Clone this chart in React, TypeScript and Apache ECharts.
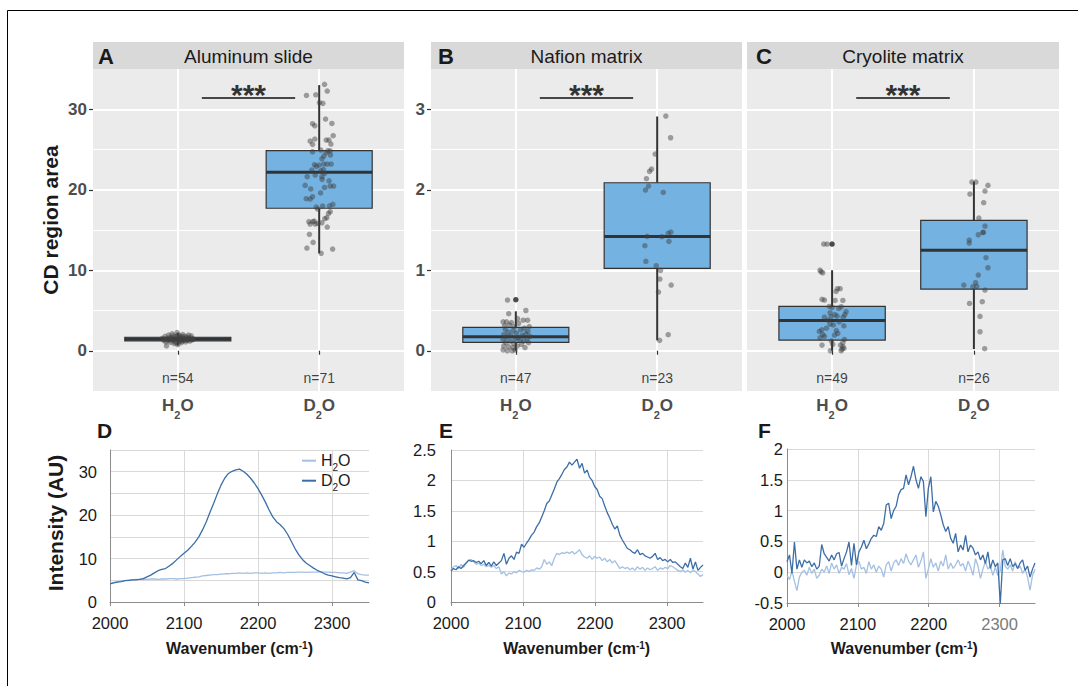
import React, { useEffect, useRef } from "react";
import * as echarts from "echarts";

const FONT = "'Liberation Sans', Arial, Helvetica, sans-serif";

// ---------------- Top row: box plots ----------------
const groupNames = ["H2O", "D2O"];
const panelLetters = ["A", "B", "C"];
const panelTitles = ["Aluminum slide", "Nafion matrix", "Cryolite matrix"];
const nLabels = [["n=54", "n=71"], ["n=47", "n=23"], ["n=49", "n=26"]];

// [whisker low, Q1, median, Q3, whisker high]
const boxA = [[0.62, 1.22, 1.45, 1.68, 2.25], [12.1, 17.7, 22.16, 24.85, 33.0]];
const boxB = [[0.0, 0.104, 0.174, 0.29, 0.49], [0.13, 1.024, 1.42, 2.087, 2.91]];
const boxC = [[0.0, 0.133, 0.377, 0.552, 1.0], [0.02, 0.766, 1.247, 1.62, 2.1]];

// outliers: [group, value]
const outA: number[][] = [];
const outB = [[1, 0.634]];
const outC = [[1, 1.325]];

// jittered points: [jitter offset, value]
const jitA_H2O = [
  [-0.11, 1.55], [-0.10, 1.30], [-0.09, 1.80], [-0.085, 1.10], [-0.08, 0.62], [-0.07, 1.50], [-0.065, 1.95], [-0.06, 1.25], [-0.055, 1.70], [-0.05, 1.05],
  [-0.045, 1.45], [-0.04, 2.10], [-0.035, 1.35], [-0.03, 1.60], [-0.025, 0.90], [-0.02, 1.20], [-0.015, 1.75], [-0.01, 1.40], [-0.005, 2.25], [0.0, 0.75],
  [0.003, 1.50], [0.008, 1.30], [0.012, 1.90], [0.015, 1.15], [0.02, 1.65], [0.025, 1.00], [0.03, 1.45], [0.035, 2.00], [0.04, 1.25], [0.045, 1.55],
  [0.05, 1.80], [0.055, 1.10], [0.06, 1.40], [0.065, 1.70], [0.07, 1.30], [0.075, 1.95], [0.08, 1.50], [0.085, 1.20], [0.09, 1.60], [0.095, 1.85],
  [0.10, 1.35], [0.105, 1.45], [-0.075, 1.35], [-0.015, 1.05], [0.01, 1.60], [0.03, 1.75], [-0.05, 1.55], [0.05, 1.35], [-0.03, 1.85], [0.0, 1.90],
  [0.02, 1.20], [-0.09, 1.45], [0.07, 1.55], [0.11, 1.45],
];
const jitA_D2O = [
  [0.038, 33.09], [0.057, 32.26], [-0.09, 31.72], [-0.024, 31.8], [0.002, 30.81], [0.026, 30.73], [0.045, 28.78], [0.09, 28.24], [-0.047, 28.2], [-0.031, 27.95],
  [0.099, 26.71], [-0.064, 26.05], [-0.031, 26.3], [-0.047, 25.64], [0.05, 26.17], [0.069, 26.17], [0.083, 25.68], [0.012, 24.93], [0.061, 24.85], [0.078, 24.82],
  [-0.047, 24.72], [0.033, 24.19], [0.019, 23.85], [0.08, 24.31], [-0.033, 23.11], [0.033, 23.19], [0.057, 23.19], [0.085, 23.19], [0.0, 23.07], [-0.052, 22.45],
  [0.012, 22.36], [0.038, 22.03], [-0.085, 21.62], [-0.028, 21.83], [0.019, 21.62], [0.021, 21.29], [-0.099, 20.54], [0.038, 20.29], [0.078, 20.46], [0.102, 20.46],
  [-0.047, 19.13], [-0.092, 18.89], [-0.064, 18.84], [-0.021, 17.85], [0.024, 17.98], [0.073, 18.0], [0.097, 18.18], [0.078, 17.27], [0.066, 17.06], [-0.073, 16.03],
  [-0.045, 16.03], [-0.028, 15.74], [-0.009, 15.82], [0.019, 15.9], [-0.064, 15.74], [0.054, 16.53], [0.057, 15.37], [-0.069, 14.46], [-0.043, 13.46], [-0.087, 12.76],
  [0.095, 12.63], [0.014, 12.1], [0.05, 24.6], [-0.02, 22.9], [0.03, 22.5], [0.07, 21.1], [-0.06, 20.1], [0.01, 19.6], [-0.01, 17.6], [0.04, 16.4], [-0.035, 16.1],
];
const jitB_H2O = [
  [-0.059, 0.63], [0.071, 0.5], [-0.05, 0.46], [0.012, 0.4], [0.083, 0.38], [0.052, 0.38], [-0.09, 0.36], [-0.066, 0.36], [-0.031, 0.35], [0.02, 0.34],
  [-0.08, 0.31], [-0.045, 0.32], [0.095, 0.3], [-0.01, 0.3], [0.06, 0.28], [-0.075, 0.27], [0.035, 0.26], [-0.02, 0.25], [0.085, 0.24], [-0.055, 0.23],
  [0.005, 0.22], [0.07, 0.21], [-0.085, 0.2], [-0.035, 0.19], [0.045, 0.19], [0.1, 0.18], [-0.065, 0.17], [0.015, 0.16], [-0.005, 0.15], [0.08, 0.15],
  [-0.09, 0.14], [0.03, 0.13], [-0.04, 0.12], [0.055, 0.12], [-0.07, 0.1], [0.09, 0.1], [-0.015, 0.09], [0.04, 0.08], [-0.085, 0.06], [0.01, 0.06],
  [-0.05, 0.05], [-0.02, 0.04], [0.065, 0.04], [-0.09, 0.01], [-0.06, 0.0], [-0.025, 0.0], [-0.005, 0.01],
];
const jitB_D2O = [
  [0.061, 2.915], [0.095, 2.646], [-0.014, 2.443], [-0.04, 2.257], [-0.054, 2.228], [-0.076, 2.137], [-0.061, 2.046], [-0.083, 1.996], [0.043, 1.967], [0.097, 1.475],
  [0.078, 1.458], [-0.071, 1.421], [0.033, 1.417], [0.083, 1.359], [-0.087, 1.305], [-0.08, 1.11], [-0.007, 1.056], [0.024, 0.998], [0.019, 0.891], [0.099, 0.816],
  [0.009, 0.729], [0.078, 0.199], [0.017, 0.129],
];
const jitC_H2O = [
  [-0.059, 1.325], [-0.035, 1.325], [-0.085, 1.0], [-0.066, 0.969], [-0.078, 0.98], [0.038, 0.771], [0.057, 0.771], [0.028, 0.737], [-0.071, 0.638], [-0.054, 0.63],
  [0.021, 0.625], [0.076, 0.625], [0.047, 0.526], [0.064, 0.547], [0.0, 0.54], [-0.014, 0.472], [0.099, 0.485], [-0.007, 0.423], [-0.054, 0.417], [0.035, 0.43],
  [0.078, 0.417], [0.009, 0.32], [-0.014, 0.33], [0.083, 0.31], [-0.073, 0.26], [-0.09, 0.24], [-0.066, 0.2], [0.04, 0.215], [0.017, 0.195], [-0.054, 0.18],
  [-0.085, 0.16], [0.087, 0.14], [0.076, 0.1], [0.059, 0.07], [-0.071, 0.07], [-0.012, 0.0], [0.064, 0.0], [0.076, 0.05], [0.083, 0.03], [0.005, 0.08],
  [-0.03, 0.38], [0.05, 0.36], [-0.04, 0.28], [0.02, 0.45], [0.07, 0.02], [-0.005, 0.12], [0.03, 0.25], [0.09, 0.45], [-0.02, 0.55],
];
const jitC_D2O = [
  [-0.014, 2.096], [0.014, 2.096], [0.099, 2.054], [0.078, 1.984], [-0.028, 1.947], [0.069, 1.839], [0.035, 1.648], [0.078, 1.549], [0.064, 1.47], [0.031, 1.441],
  [-0.033, 1.375], [-0.033, 1.338], [0.085, 1.156], [0.099, 1.031], [0.031, 0.94], [0.012, 0.845], [-0.071, 0.816], [-0.007, 0.795], [0.078, 0.754], [0.059, 0.609],
  [-0.031, 0.588], [0.043, 0.427], [0.043, 0.236], [0.076, 0.025], [0.066, 1.47], [0.02, 0.8],
];

const yMajorA = [0, 10, 20, 30];
const yMinorA = [-5, 5, 15, 25];
const yMajorBC = [0, 1, 2, 3];
const yMinorBC = [-0.5, 0.5, 1.5, 2.5];
const sigY = [31.4, 3.14, 3.14];
const sigX = [1.17, 1.83];
const nLabelY = [-3.43, -0.343, -0.343];

// ---------------- Bottom row: spectra ----------------
const wnD = Array.from({ length: 71 }, (_, i) => 2000 + 5 * i);
const wnEF = Array.from({ length: 101 }, (_, i) => 2000 + 3.5 * i);
const xTicksSpec = [2000, 2100, 2200, 2300];
const yTicksD = [0, 5, 10, 15, 20, 25, 30, 35];
const yLabelsD = [0, 10, 20, 30];

const D_H2O = [4.3, 4.5, 4.7, 4.8, 4.9, 5.0, 5.1, 5.2, 5.2, 5.3, 5.2, 5.3, 5.3, 5.2, 5.3, 5.3, 5.4, 5.4, 5.3, 5.4,
  5.4, 5.5, 5.6, 5.7, 5.8, 6.0, 6.1, 6.2, 6.3, 6.3, 6.4, 6.5, 6.5, 6.6, 6.6, 6.7, 6.6, 6.7, 6.6, 6.7,
  6.7, 6.6, 6.7, 6.6, 6.7, 6.7, 6.8, 6.7, 6.8, 6.8, 6.8, 6.9, 6.9, 6.8, 6.9, 6.9, 6.9, 7.0, 6.9, 6.9,
  6.8, 6.8, 6.7, 6.7, 6.6, 6.9, 7.2, 6.5, 6.3, 6.2, 6.2];
const D_D2O = [4.2, 4.4, 4.6, 4.7, 4.9, 5.0, 5.1, 5.1, 5.2, 5.4, 5.8, 6.2, 6.7, 7.2, 7.5, 7.7, 8.3, 8.9, 9.7, 10.5,
  11.2, 11.9, 12.8, 13.8, 15.0, 16.6, 18.4, 20.6, 22.7, 24.9, 26.9, 28.5, 29.6, 30.1, 30.4, 30.6, 30.1, 29.4, 28.5, 27.4,
  26.1, 24.6, 23.0, 21.2, 19.6, 18.5, 17.8, 16.9, 15.6, 14.0, 12.3, 10.9, 9.8, 9.0, 8.4, 7.8, 7.3, 6.9, 6.5, 6.2,
  6.0, 5.8, 5.6, 5.5, 5.3, 5.6, 6.8, 5.1, 4.9, 4.6, 4.4];

const E_H2O = [0.52, 0.58, 0.6, 0.55, 0.62, 0.57, 0.64, 0.68, 0.7, 0.66, 0.62, 0.64, 0.6, 0.62, 0.58, 0.6, 0.57, 0.6, 0.55, 0.58,
  0.46, 0.5, 0.43, 0.48, 0.46, 0.5, 0.48, 0.52, 0.5, 0.49, 0.52, 0.5, 0.53, 0.52, 0.56, 0.54, 0.58, 0.7, 0.62, 0.66,
  0.6, 0.72, 0.8, 0.78, 0.81, 0.8, 0.82, 0.8, 0.83, 0.79, 0.82, 0.86, 0.78, 0.74, 0.72, 0.76, 0.7, 0.75, 0.72, 0.74,
  0.68, 0.72, 0.66, 0.7, 0.64, 0.68, 0.62, 0.55, 0.58, 0.55, 0.57, 0.53, 0.56, 0.52, 0.58, 0.54, 0.57, 0.52, 0.56, 0.53,
  0.55, 0.58, 0.52, 0.56, 0.54, 0.57, 0.55, 0.6, 0.58, 0.55, 0.52, 0.5, 0.53, 0.49, 0.52, 0.48, 0.52, 0.5, 0.46, 0.42, 0.45];
const E_D2O = [0.51, 0.55, 0.53, 0.58, 0.55, 0.6, 0.64, 0.69, 0.67, 0.68, 0.65, 0.67, 0.63, 0.68, 0.6, 0.65, 0.59, 0.66, 0.6, 0.64,
  0.68, 0.8, 0.62, 0.72, 0.76, 0.7, 0.82, 0.8, 0.95, 0.9, 0.97, 1.03, 1.1, 1.15, 1.24, 1.3, 1.4, 1.5, 1.62, 1.66,
  1.76, 1.86, 1.97, 2.03, 2.1, 2.18, 2.22, 2.3, 2.25, 2.3, 2.35, 2.2, 2.28, 2.12, 2.17, 2.05, 2.0, 1.9, 1.85, 1.74,
  1.7, 1.58, 1.47, 1.38, 1.28, 1.2, 1.25, 1.1, 1.02, 0.95, 0.88, 0.86, 0.82, 0.8, 0.86, 0.78, 0.8, 0.76, 0.74, 0.72,
  0.75, 0.8, 0.7, 0.73, 0.68, 0.7, 0.66, 0.7, 0.65, 0.66, 0.62, 0.58, 0.55, 0.64, 0.57, 0.72, 0.54, 0.66, 0.52, 0.57, 0.61];

const F_H2O = [-0.05, -0.12, 0.02, -0.15, -0.3, -0.08, 0.0, 0.03, -0.05, 0.08, -0.02, 0.05, -0.1, -0.05, 0.05, 0.0, 0.1, -0.02, 0.15, 0.05,
  0.12, -0.02, 0.08, 0.05, 0.14, -0.04, 0.06, -0.1, 0.12, 0.18, 0.05, 0.08, -0.02, 0.17, 0.05, 0.12, 0.0, 0.1, 0.05, -0.08,
  0.12, 0.17, 0.02, 0.15, 0.2, 0.11, 0.22, 0.14, 0.3, 0.18, 0.12, 0.2, 0.28, 0.08, 0.18, 0.33, -0.1, 0.05, 0.22, 0.08,
  0.15, 0.02, 0.18, 0.1, 0.28, 0.05, 0.15, 0.06, 0.12, 0.2, 0.1, 0.14, 0.02, 0.18, 0.08, -0.05, 0.22, 0.1, -0.1, 0.05,
  0.17, 0.05, 0.1, -0.05, 0.08, -0.05, 0.02, 0.36, 0.1, 0.05, 0.12, 0.02, 0.17, 0.06, 0.1, -0.02, 0.05, -0.08, -0.29, -0.05, 0.05];
const F_D2O = [0.17, 0.28, -0.02, 0.49, 0.05, 0.2, 0.08, 0.2, 0.15, 0.18, 0.09, 0.15, 0.05, 0.1, 0.45, 0.3, 0.24, 0.18, 0.28, 0.2,
  0.3, 0.32, 0.1, 0.22, 0.33, 0.49, 0.11, 0.47, 0.12, 0.33, 0.41, 0.52, 0.38, 0.46, 0.55, 0.6, 0.58, 0.74, 0.68, 0.79,
  1.09, 1.12, 0.87, 1.0, 1.07, 1.26, 1.34, 1.36, 1.58, 1.42, 1.55, 1.72, 1.5, 1.36, 1.55, 1.47, 0.9, 1.36, 1.55, 0.98,
  1.15, 1.07, 0.93, 0.77, 0.66, 0.74, 0.55, 0.47, 0.63, 0.33, 0.44, 0.36, 0.6, 0.33, 0.44, 0.39, 0.28, 0.33, 0.2, 0.28,
  0.14, 0.33, 0.06, 0.2, 0.09, 0.15, -0.51, 0.2, 0.22, 0.11, 0.22, 0.09, 0.14, 0.06, 0.15, 0.2, 0.03, 0.1, -0.08, 0.05, 0.15];

// ---------------- Styles / layout ----------------
const BOX_FILL = "#74b2e2";
const DARK = "#3c6ea6";
const LIGHT = "#a4c0e2";
const topLayout = [
  { left: 93, width: 311 },
  { left: 431, width: 311 },
  { left: 747, width: 312 },
];
const letterX = [98, 438, 756];

function boxRender(params: any, api: any) {
  const x = api.value(0);
  const lo = api.coord([x, api.value(1)]);
  const q1 = api.coord([x, api.value(2)]);
  const med = api.coord([x, api.value(3)]);
  const q3 = api.coord([x, api.value(4)]);
  const hi = api.coord([x, api.value(5)]);
  const hw = api.size([0.75, 0])[0] / 2;
  const cx = lo[0];
  const stroke = "#333333";
  return {
    type: "group",
    children: [
      { type: "line", shape: { x1: cx, y1: hi[1], x2: cx, y2: q3[1] }, style: { stroke, lineWidth: 2 } },
      { type: "line", shape: { x1: cx, y1: q1[1], x2: cx, y2: lo[1] }, style: { stroke, lineWidth: 2 } },
      { type: "rect", shape: { x: cx - hw, y: q3[1], width: 2 * hw, height: q1[1] - q3[1] }, style: { fill: BOX_FILL, stroke, lineWidth: 1.2 } },
      { type: "line", shape: { x1: cx - hw, y1: med[1], x2: cx + hw, y2: med[1] }, style: { stroke, lineWidth: 3 } },
    ],
  };
}

function subRich(color: string, big: number, small: number, pad: number, bold: boolean, alignMain: string) {
  return {
    a: { fontSize: big, fontWeight: bold ? "bold" : "normal", color, fontFamily: FONT, verticalAlign: alignMain },
    s: { fontSize: small, fontWeight: bold ? "bold" : "normal", color, fontFamily: FONT, verticalAlign: "top", padding: [pad, 0, 0, 0] },
  };
}
const subText = (g: string) => `{a|${g[0]}}{s|${g[1]}}{a|${g[2]}}`;

function buildOption() {
  const grids: any[] = [];
  const xAxes: any[] = [];
  const yAxes: any[] = [];
  const series: any[] = [];
  const graphics: any[] = [];

  const boxes = [boxA, boxB, boxC];
  const outs = [outA, outB, outC];
  const jits = [[jitA_H2O, jitA_D2O], [jitB_H2O, jitB_D2O], [jitC_H2O, jitC_D2O]];

  // ---- top grids (0..2) ----
  for (let p = 0; p < 3; p++) {
    const L = topLayout[p];
    grids.push({ left: L.left, top: 69, width: L.width, height: 322, show: true, backgroundColor: "#ebebeb", borderWidth: 0 });
    xAxes.push({
      gridIndex: p, type: "value", min: 0.4, max: 2.6,
      axisLine: { show: false },
      axisTick: { show: true, customValues: [1, 2], length: 4, lineStyle: { color: "#333", width: 1.2 } },
      axisLabel: {
        customValues: [1, 2], margin: 6,
        formatter: (v: any) => subText(groupNames[Math.round(Number(v)) - 1]),
        rich: subRich("#4d4d4d", 17, 11, 12, true, "top"),
      },
      splitLine: { show: true, lineStyle: { color: "#ffffff", width: 2 } },
    });
  }
  // ---- bottom grids (3..5) ----
  const bottomLayout = [
    { left: 110, top: 450, width: 259, height: 152, min: 0, max: 35, labelMargin: 13 },
    { left: 451, top: 450, width: 252, height: 152, min: 0, max: 2.5, labelMargin: 15 },
    { left: 787, top: 449, width: 248, height: 154, min: -0.5, max: 2, labelMargin: 4 },
  ];
  for (let k = 0; k < 3; k++) {
    const B = bottomLayout[k];
    grids.push({ left: B.left, top: B.top, width: B.width, height: B.height });
    xAxes.push({
      gridIndex: 3 + k, type: "value", min: 2000, max: 2350, interval: 100,
      axisLine: { show: true, onZero: false, lineStyle: { color: "#8c8c8c", width: 1 } },
      axisTick: { show: true, customValues: xTicksSpec, length: 4, lineStyle: { color: "#8c8c8c" } },
      axisLabel: {
        customValues: xTicksSpec, margin: 12, fontSize: 16.5, fontFamily: FONT,
        color: k === 2 ? (v: any) => (Number(v) === 2300 ? "#7a7a7a" : "#1a1a1a") : "#1a1a1a",
        formatter: (v: any) => String(v),
      },
      splitLine: { show: true, lineStyle: { color: "#d9d9d9", width: 1 } },
    });
  }

  // ---- y axes: top major 0..2 ----
  for (let p = 0; p < 3; p++) {
    const isA = p === 0;
    yAxes.push({
      gridIndex: p, type: "value", min: isA ? -5 : -0.5, max: isA ? 35 : 3.5,
      axisLine: { show: false },
      axisTick: { show: p < 2, customValues: isA ? yMajorA : yMajorBC, length: 4, lineStyle: { color: "#333", width: 1.2 } },
      axisLabel: {
        show: p < 2, customValues: isA ? yMajorA : yMajorBC, margin: 6,
        fontSize: 17, fontWeight: "bold", color: "#4d4d4d", fontFamily: FONT,
        formatter: (v: any) => String(v),
      },
      splitLine: { show: true, lineStyle: { color: "#ffffff", width: 2 } },
    });
  }
  // ---- bottom y axes 3..5 ----
  for (let k = 0; k < 3; k++) {
    const B = bottomLayout[k];
    const y: any = {
      gridIndex: 3 + k, type: "value", min: B.min, max: B.max, interval: k === 0 ? 5 : 0.5,
      axisLine: { show: true, onZero: false, lineStyle: { color: "#8c8c8c", width: 1 } },
      axisTick: { show: false },
      axisLabel: { margin: B.labelMargin, fontSize: 16.5, color: "#1a1a1a", fontFamily: FONT, formatter: (v: any) => String(v) },
      splitLine: { show: true, lineStyle: { color: "#d9d9d9", width: 1 } },
    };
    if (k === 0) {
      y.axisTick = { show: false, customValues: yTicksD };
      y.axisLabel.customValues = yLabelsD;
    }
    yAxes.push(y);
  }
  // ---- top minor y axes 6..8 ----
  for (let p = 0; p < 3; p++) {
    const isA = p === 0;
    yAxes.push({
      gridIndex: p, type: "value", min: isA ? -5 : -0.5, max: isA ? 35 : 3.5,
      axisLine: { show: false },
      axisTick: { show: false, customValues: isA ? yMinorA : yMinorBC },
      axisLabel: { show: false },
      splitLine: { show: true, lineStyle: { color: "#ffffff", width: 1 } },
    });
  }

  // ---- top series ----
  for (let p = 0; p < 3; p++) {
    series.push({
      type: "custom", name: "box" + p, xAxisIndex: p, yAxisIndex: p, z: 2, silent: true,
      renderItem: boxRender,
      encode: { x: 0, y: [1, 2, 3, 4, 5] },
      data: boxes[p].map((s, i) => [i + 1, ...s]),
    });
    series.push({
      type: "scatter", name: "points" + p, xAxisIndex: p, yAxisIndex: p, z: 3, silent: true,
      symbolSize: 5.5, itemStyle: { color: "rgba(64,64,64,0.6)" },
      data: [
        ...jits[p][0].map(([o, v]) => [1 + o, v]),
        ...jits[p][1].map(([o, v]) => [2 + o, v]),
      ],
    });
    if (outs[p].length) {
      series.push({
        type: "scatter", name: "outliers" + p, xAxisIndex: p, yAxisIndex: p, z: 4, silent: true,
        symbolSize: 5.5, itemStyle: { color: "#1f1f1f" }, data: outs[p],
      });
    }
    series.push({
      type: "line", name: "sig" + p, xAxisIndex: p, yAxisIndex: p, z: 4, silent: true,
      symbol: "none", lineStyle: { color: "#111", width: 1.6 },
      data: [[sigX[0], sigY[p]], [sigX[1], sigY[p]]],
    });
    series.push({
      type: "scatter", name: "stars" + p, xAxisIndex: p, yAxisIndex: p, z: 4, silent: true,
      symbolSize: 1, itemStyle: { color: "rgba(0,0,0,0)" },
      label: { show: true, position: "inside", offset: [0, -3], formatter: "***", fontSize: 30, fontWeight: "bold", color: "#000", fontFamily: FONT },
      data: [[(sigX[0] + sigX[1]) / 2, sigY[p]]],
    });
    series.push({
      type: "scatter", name: "n" + p, xAxisIndex: p, yAxisIndex: p, z: 4, silent: true,
      symbolSize: 1, itemStyle: { color: "rgba(0,0,0,0)" },
      label: { show: true, position: "inside", formatter: (pp: any) => nLabels[p][pp.dataIndex], fontSize: 14, color: "#111", fontFamily: FONT },
      data: [[1, nLabelY[p]], [2, nLabelY[p]]],
    });
  }

  // ---- bottom series ----
  const spectra = [
    { wn: wnD, h: D_H2O, d: D_D2O },
    { wn: wnEF, h: E_H2O, d: E_D2O },
    { wn: wnEF, h: F_H2O, d: F_D2O },
  ];
  for (let k = 0; k < 3; k++) {
    const S = spectra[k];
    series.push({
      type: "line", name: "H2O", xAxisIndex: 3 + k, yAxisIndex: 3 + k, z: 3, symbol: "none",
      lineStyle: { color: LIGHT, width: 1.3 }, itemStyle: { color: LIGHT },
      data: S.wn.map((w, i) => [w, S.h[i]]),
    });
    series.push({
      type: "line", name: "D2O", xAxisIndex: 3 + k, yAxisIndex: 3 + k, z: 4, symbol: "none",
      lineStyle: { color: DARK, width: 1.3 }, itemStyle: { color: DARK },
      data: S.wn.map((w, i) => [w, S.d[i]]),
    });
  }

  // ---- graphics ----
  const txt = (x: number, y: number, text: string, size: number, weight: string, align: string, extra: any = {}) => ({
    type: "text", x, y, ...extra,
    style: {
      text, fontSize: size, fontWeight: weight, fontFamily: FONT, fill: "#1a1a1a",
      align, verticalAlign: "middle", textAlign: align, textVerticalAlign: "middle",
    },
  });
  graphics.push({ type: "line", shape: { x1: 7.5, y1: 10.5, x2: 1078, y2: 10.5 }, style: { stroke: "#000", lineWidth: 1 } });
  graphics.push({ type: "line", shape: { x1: 7.5, y1: 10.5, x2: 7.5, y2: 686 }, style: { stroke: "#000", lineWidth: 1 } });
  for (let p = 0; p < 3; p++) {
    const L = topLayout[p];
    graphics.push({ type: "rect", shape: { x: L.left, y: 42, width: L.width, height: 27 }, style: { fill: "#d9d9d9" } });
    graphics.push(txt(L.left + L.width / 2, 56, panelTitles[p], 19, "normal", "center"));
    graphics.push(txt(letterX[p], 56, panelLetters[p], 22, "bold", "left"));
  }
  graphics.push(txt(50.5, 220, "CD region area", 21, "bold", "center", { rotation: Math.PI / 2 }));
  graphics.push(txt(55.8, 523, "Intensity (AU)", 21, "bold", "center", { rotation: Math.PI / 2 }));
  const bottomLetters = [["D", 97], ["E", 439], ["F", 758]];
  bottomLetters.forEach(([t, x]) => graphics.push(txt(x as number, 430, t as string, 21, "bold", "left")));
  const wnTitleX = [239.5, 576.7, 904.3];
  wnTitleX.forEach((x) => {
    graphics.push({
      type: "text", x, y: 648,
      style: {
        text: "{b|Wavenumber (cm}{sup|-1}{b|)}",
        align: "center", verticalAlign: "middle", textAlign: "center", textVerticalAlign: "middle",
        fill: "#1a1a1a", fontSize: 16, fontFamily: FONT, fontWeight: "bold",
        rich: {
          b: { fontSize: 16, fontWeight: "bold", fontFamily: FONT, fill: "#1a1a1a", color: "#1a1a1a", verticalAlign: "middle" },
          sup: { fontSize: 10, fontWeight: "bold", fontFamily: FONT, fill: "#1a1a1a", color: "#1a1a1a", verticalAlign: "top" },
        },
      },
    });
  });

  return {
    animation: false,
    backgroundColor: "#ffffff",
    grid: grids,
    xAxis: xAxes,
    yAxis: yAxes,
    legend: {
      data: ["H2O", "D2O"], orient: "vertical", left: 302, top: 452.7, padding: 0, itemGap: 0,
      itemWidth: 14, itemHeight: 2, icon: "rect", selectedMode: false,
      formatter: (name: string) => subText(name),
      textStyle: { fontFamily: FONT, fontSize: 16, color: "#1a1a1a", rich: subRich("#1a1a1a", 16, 10, 14, false, "middle") },
    },
    series,
    graphic: { elements: graphics },
  };
}

export default function App() {
  const ref = useRef<HTMLDivElement>(null);
  useEffect(() => {
    document.body.style.margin = "0";
    if (!ref.current) return;
    const chart = echarts.init(ref.current, undefined, { renderer: "svg" });
    chart.setOption(buildOption() as any);
    return () => chart.dispose();
  }, []);
  return <div ref={ref} style={{ width: 1078, height: 686 }} />;
}
